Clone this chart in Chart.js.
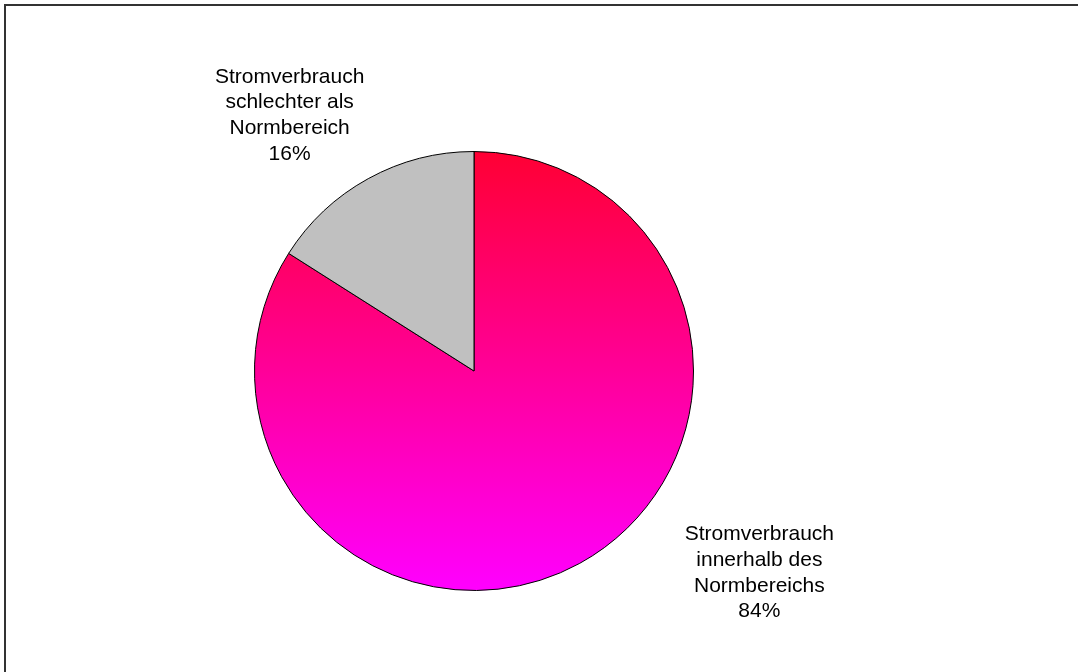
<!DOCTYPE html>
<html>
<head>
<meta charset="utf-8">
<script src="https://cdn.jsdelivr.net/npm/chart.js@4"></script>
<style>
  html, body { margin: 0; padding: 0; background: #fff; }
  #wrap { position: relative; width: 1078px; height: 672px; }
</style>
</head>
<body>
<div id="wrap"><canvas id="myChart" width="1078" height="672"></canvas></div>
<script>
// slices, clockwise from 12 o'clock
const categories = [
    ['Stromverbrauch', 'innerhalb des', 'Normbereichs'],
    ['Stromverbrauch', 'schlechter als', 'Normbereich']
];
const values = [84, 16];
const sliceColors = ['gradient', '#C0C0C0'];

// label block centres, in units of the pie radius from its centre
const labelOffsets = [[1.30, 0.92], [-0.84, -1.165]];

const total = values.reduce((a, b) => a + b, 0);

// outer frame (only top and left edge fall inside the page)
const framePlugin = {
    id: 'frame',
    beforeDraw(chart) {
        const c = chart.ctx;
        c.save();
        c.strokeStyle = '#333';
        c.lineWidth = 2;
        c.beginPath();
        c.moveTo(5, chart.height + 5);
        c.lineTo(5, 5);
        c.lineTo(chart.width + 5, 5);
        c.stroke();
        c.restore();
    }
};

// category name + percentage next to each slice
const sliceLabels = {
    id: 'sliceLabels',
    afterDatasetsDraw(chart) {
        const c = chart.ctx;
        const arcs = chart.getDatasetMeta(0).data;
        c.save();
        c.font = '21px "Liberation Sans", Arial, sans-serif';
        c.fillStyle = '#000';
        c.textAlign = 'center';
        c.textBaseline = 'middle';
        const lh = 25.7;
        arcs.forEach((arc, i) => {
            const lines = categories[i].concat([Math.round(values[i] / total * 100) + '%']);
            const cx = arc.x + labelOffsets[i][0] * arc.outerRadius;
            const cy = arc.y + labelOffsets[i][1] * arc.outerRadius;
            const y0 = cy - (lines.length - 1) * lh / 2;
            lines.forEach((t, k) => c.fillText(t, cx, y0 + k * lh));
        });
        c.restore();
    }
};

const data = {
    labels: categories.map(l => l.join(' ')),
    datasets: [{
        data: values,
        backgroundColor(ctx) {
            if (sliceColors[ctx.dataIndex] !== 'gradient') return sliceColors[ctx.dataIndex];
            const area = ctx.chart.chartArea;
            if (!area) return '#FF0099';
            const g = ctx.chart.ctx.createLinearGradient(0, area.top, 0, area.bottom);
            g.addColorStop(0, '#FF0033');
            g.addColorStop(1, '#FF00FF');
            return g;
        },
        borderColor: '#000',
        borderWidth: 1
    }]
};

const config = {
    type: 'pie',
    data,
    options: {
        responsive: false,
        animation: false,
        layout: {
            padding: { top: 151, bottom: 81, left: 174, right: 304 }
        },
        plugins: {
            legend: { display: false },
            tooltip: { enabled: false }
        }
    },
    plugins: [framePlugin, sliceLabels]
};

const myChart = new Chart(document.getElementById('myChart'), config);
</script>
</body>
</html>
